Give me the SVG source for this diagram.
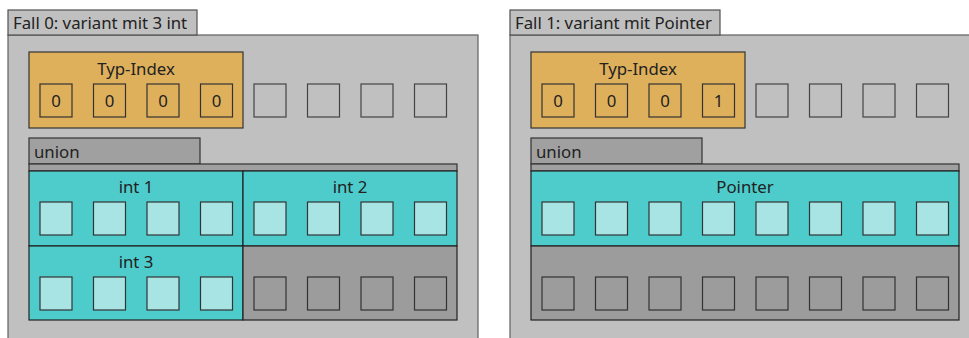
<svg xmlns="http://www.w3.org/2000/svg" xmlns:xlink="http://www.w3.org/1999/xlink" width="969" height="338" viewBox="0 0 969 338">
  <style>
    text { font-family: "Noto Sans", "Open Sans", sans-serif; font-size: 16.8px; fill: #222; }
    .panel { fill: #c0c0c0; stroke: #606060; stroke-width: 1.2; }
    .tab { fill: #c0c0c0; stroke: #505050; stroke-width: 1.2; }
    .idx { fill: #dfb05c; stroke: #333; stroke-width: 1.2; }
    .union { fill: #a0a0a0; stroke: #333; stroke-width: 1.2; }
    .field { fill: #4ecccc; stroke: #222; stroke-width: 1.2; }
    .empty { fill: #9c9c9c; stroke: #222; stroke-width: 1.2; }
    .byte-idx { fill: #dfb05c; stroke: #333; stroke-width: 1.2; }
    .byte-free { fill: #c0c0c0; stroke: #444; stroke-width: 1.2; }
    .byte-used { fill: #a8e4e4; stroke: #333; stroke-width: 1.2; }
    .byte-pad { fill: #9c9c9c; stroke: #333; stroke-width: 1.2; }
    .mid { text-anchor: middle; }
  </style>
  <defs>
    <rect id="cell" x="0" y="0" width="32" height="33"/>
  </defs>

  <!-- Case 0: variant holding three ints -->
  <g id="fall0">
    <rect class="panel" x="8" y="35" width="470" height="312"/>
    <rect class="tab" x="8" y="10" width="189" height="25"/>
    <text x="13" y="29">Fall 0: variant mit 3 int</text>

    <g id="fall0-index">
      <rect class="idx" x="29" y="52" width="214" height="76"/>
      <text class="mid" x="136" y="75">Typ-Index</text>
      <use class="byte-idx" xlink:href="#cell" x="40" y="84"/>
      <use class="byte-idx" xlink:href="#cell" x="93.5" y="84"/>
      <use class="byte-idx" xlink:href="#cell" x="147" y="84"/>
      <use class="byte-idx" xlink:href="#cell" x="200.5" y="84"/>
      <text class="mid" x="56" y="107">0</text>
      <text class="mid" x="109.5" y="107">0</text>
      <text class="mid" x="163" y="107">0</text>
      <text class="mid" x="216.5" y="107">0</text>
      <use class="byte-free" xlink:href="#cell" x="254" y="84"/>
      <use class="byte-free" xlink:href="#cell" x="307.5" y="84"/>
      <use class="byte-free" xlink:href="#cell" x="361" y="84"/>
      <use class="byte-free" xlink:href="#cell" x="414.5" y="84"/>
    </g>

    <g id="fall0-union">
      <rect class="union" x="29" y="138" width="171" height="26"/>
      <text x="34" y="158">union</text>
      <rect class="union" x="29" y="164" width="428" height="7"/>
    </g>

    <g id="fall0-int1">
      <rect class="field" x="29" y="171" width="214" height="75"/>
      <text class="mid" x="136" y="193">int 1</text>
      <use class="byte-used" xlink:href="#cell" x="40" y="202"/>
      <use class="byte-used" xlink:href="#cell" x="93.5" y="202"/>
      <use class="byte-used" xlink:href="#cell" x="147" y="202"/>
      <use class="byte-used" xlink:href="#cell" x="200.5" y="202"/>
    </g>

    <g id="fall0-int2">
      <rect class="field" x="243" y="171" width="214" height="75"/>
      <text class="mid" x="350" y="193">int 2</text>
      <use class="byte-used" xlink:href="#cell" x="254" y="202"/>
      <use class="byte-used" xlink:href="#cell" x="307.5" y="202"/>
      <use class="byte-used" xlink:href="#cell" x="361" y="202"/>
      <use class="byte-used" xlink:href="#cell" x="414.5" y="202"/>
    </g>

    <g id="fall0-int3">
      <rect class="field" x="29" y="246" width="214" height="74"/>
      <text class="mid" x="136" y="268">int 3</text>
      <use class="byte-used" xlink:href="#cell" x="40" y="277"/>
      <use class="byte-used" xlink:href="#cell" x="93.5" y="277"/>
      <use class="byte-used" xlink:href="#cell" x="147" y="277"/>
      <use class="byte-used" xlink:href="#cell" x="200.5" y="277"/>
    </g>

    <g id="fall0-padding">
      <rect class="empty" x="243" y="246" width="214" height="74"/>
      <use class="byte-pad" xlink:href="#cell" x="254" y="277"/>
      <use class="byte-pad" xlink:href="#cell" x="307.5" y="277"/>
      <use class="byte-pad" xlink:href="#cell" x="361" y="277"/>
      <use class="byte-pad" xlink:href="#cell" x="414.5" y="277"/>
    </g>
  </g>

  <!-- Case 1: variant holding a pointer -->
  <g id="fall1">
    <rect class="panel" x="510" y="35" width="470" height="312"/>
    <rect class="tab" x="510" y="10" width="210" height="25"/>
    <text x="515" y="29">Fall 1: variant mit Pointer</text>

    <g id="fall1-index">
      <rect class="idx" x="531" y="52" width="214" height="76"/>
      <text class="mid" x="638" y="75">Typ-Index</text>
      <use class="byte-idx" xlink:href="#cell" x="542" y="84"/>
      <use class="byte-idx" xlink:href="#cell" x="595.5" y="84"/>
      <use class="byte-idx" xlink:href="#cell" x="649" y="84"/>
      <use class="byte-idx" xlink:href="#cell" x="702.5" y="84"/>
      <text class="mid" x="558" y="107">0</text>
      <text class="mid" x="611.5" y="107">0</text>
      <text class="mid" x="665" y="107">0</text>
      <text class="mid" x="718.5" y="107">1</text>
      <use class="byte-free" xlink:href="#cell" x="756" y="84"/>
      <use class="byte-free" xlink:href="#cell" x="809.5" y="84"/>
      <use class="byte-free" xlink:href="#cell" x="863" y="84"/>
      <use class="byte-free" xlink:href="#cell" x="916.5" y="84"/>
    </g>

    <g id="fall1-union">
      <rect class="union" x="531" y="138" width="171" height="26"/>
      <text x="536" y="158">union</text>
      <rect class="union" x="531" y="164" width="428" height="7"/>
    </g>

    <g id="fall1-pointer">
      <rect class="field" x="531" y="171" width="428" height="75"/>
      <text class="mid" x="745" y="193">Pointer</text>
      <use class="byte-used" xlink:href="#cell" x="542" y="202"/>
      <use class="byte-used" xlink:href="#cell" x="595.5" y="202"/>
      <use class="byte-used" xlink:href="#cell" x="649" y="202"/>
      <use class="byte-used" xlink:href="#cell" x="702.5" y="202"/>
      <use class="byte-used" xlink:href="#cell" x="756" y="202"/>
      <use class="byte-used" xlink:href="#cell" x="809.5" y="202"/>
      <use class="byte-used" xlink:href="#cell" x="863" y="202"/>
      <use class="byte-used" xlink:href="#cell" x="916.5" y="202"/>
    </g>

    <g id="fall1-padding">
      <rect class="empty" x="531" y="246" width="428" height="74"/>
      <use class="byte-pad" xlink:href="#cell" x="542" y="277"/>
      <use class="byte-pad" xlink:href="#cell" x="595.5" y="277"/>
      <use class="byte-pad" xlink:href="#cell" x="649" y="277"/>
      <use class="byte-pad" xlink:href="#cell" x="702.5" y="277"/>
      <use class="byte-pad" xlink:href="#cell" x="756" y="277"/>
      <use class="byte-pad" xlink:href="#cell" x="809.5" y="277"/>
      <use class="byte-pad" xlink:href="#cell" x="863" y="277"/>
      <use class="byte-pad" xlink:href="#cell" x="916.5" y="277"/>
    </g>
  </g>

  <!-- no connectors in this layout -->
  <g id="connectors"/>
</svg>
